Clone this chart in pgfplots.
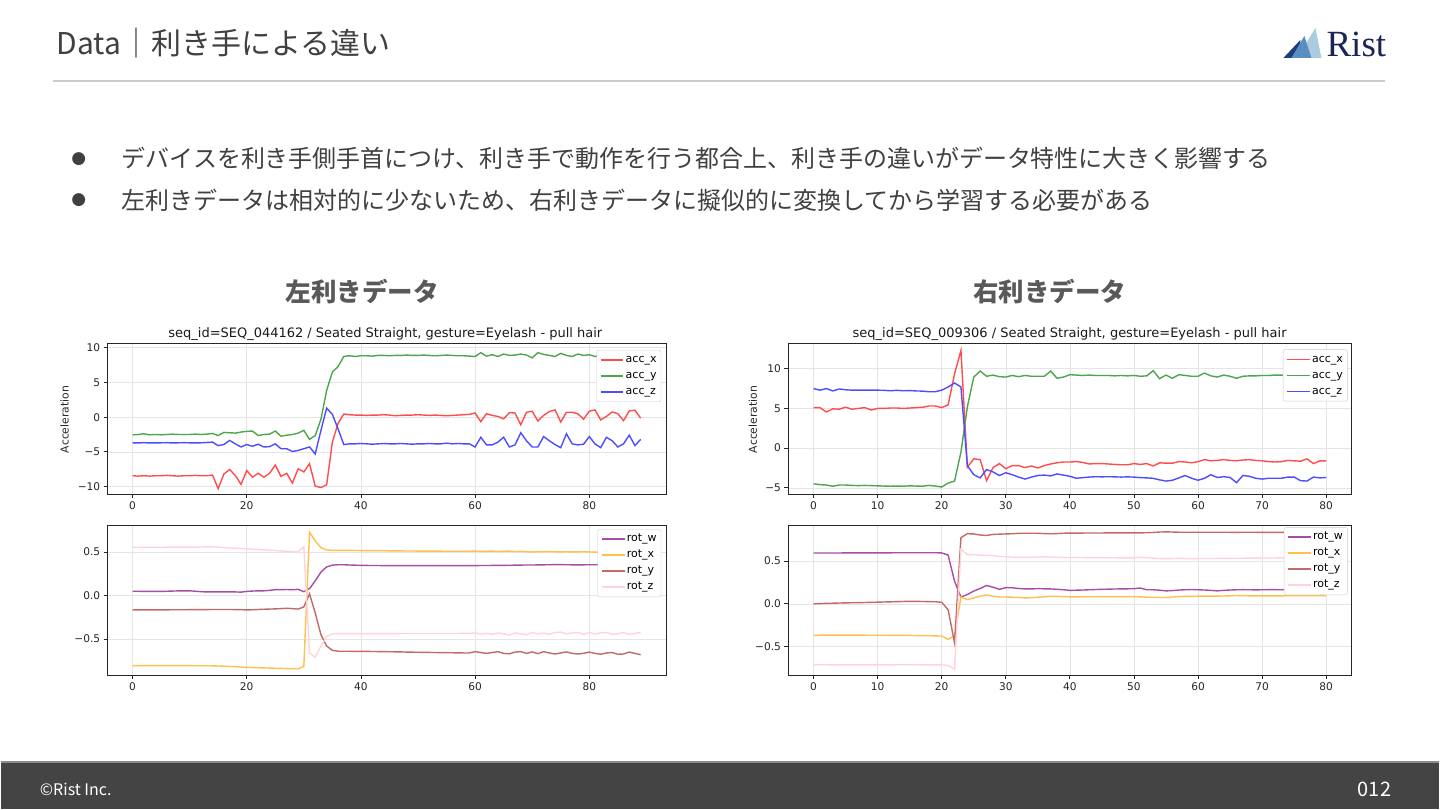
\documentclass[border=0pt]{standalone}
\usepackage{fontspec}
\usepackage{pgfplots}
\usepackage{pgfplotstable}
\pgfplotsset{compat=1.18}
\setmainfont{Noto Sans CJK JP}
\newfontfamily\dv{DejaVu Sans}
\newfontfamily\rs{Liberation Serif}

\definecolor{txt}{HTML}{404040}
\definecolor{foot}{HTML}{444444}
\definecolor{navy}{HTML}{1B2457}
\definecolor{logoA}{HTML}{1F3C7E}
\definecolor{logoB}{HTML}{A9CCE0}
\definecolor{logoC}{HTML}{5A8DC0}
% matplotlib colours at alpha 0.7 on white
\definecolor{accX}{RGB}{255,77,77}
\definecolor{accY}{RGB}{77,166,77}
\definecolor{accZ}{RGB}{77,77,255}
\definecolor{rotW}{RGB}{166,77,166}
\definecolor{rotX}{RGB}{255,192,77}
\definecolor{rotY}{RGB}{192,106,106}
\definecolor{rotZ}{RGB}{255,211,218}

% left hand: acc
\pgfplotstableread{
t ax ay az
0 -8.45 -2.55 -3.70
1 -8.50 -2.50 -3.72
2 -8.45 -2.40 -3.68
3 -8.50 -2.55 -3.72
4 -8.45 -2.50 -3.70
5 -8.45 -2.55 -3.70
6 -8.40 -2.50 -3.68
7 -8.45 -2.45 -3.72
8 -8.50 -2.50 -3.70
9 -8.45 -2.50 -3.68
10 -8.45 -2.50 -3.70
11 -8.40 -2.45 -3.72
12 -8.45 -2.50 -3.70
13 -8.45 -2.45 -3.65
14 -8.35 -2.35 -3.60
15 -10.30 -2.65 -4.10
16 -8.20 -2.20 -3.95
17 -7.55 -2.25 -3.35
18 -8.40 -2.30 -3.85
19 -9.70 -2.15 -4.30
20 -7.70 -2.05 -3.95
21 -8.65 -2.00 -4.20
22 -8.10 -2.65 -3.90
23 -8.65 -2.50 -4.30
24 -8.10 -2.45 -4.25
25 -6.90 -2.00 -3.85
26 -8.55 -2.75 -4.55
27 -8.10 -2.60 -4.55
28 -9.50 -2.50 -4.95
29 -7.45 -2.30 -4.80
30 -7.90 -1.90 -4.55
31 -6.70 -3.20 -4.30
32 -9.95 -2.65 -5.30
33 -10.15 -0.30 -1.90
34 -9.75 3.85 1.30
35 -3.60 6.50 0.40
36 -0.90 7.30 -1.70
37 0.45 8.75 -3.95
38 0.35 8.85 -3.85
39 0.30 8.75 -3.85
40 0.30 8.85 -3.80
41 0.25 8.85 -3.85
42 0.30 8.80 -3.90
43 0.30 8.90 -3.85
44 0.35 8.90 -3.80
45 0.30 8.85 -3.85
46 0.20 8.90 -3.85
47 0.25 8.90 -3.80
48 0.30 8.95 -3.85
49 0.30 8.90 -3.90
50 0.35 8.90 -3.85
51 0.30 8.95 -3.85
52 0.25 8.90 -3.80
53 0.30 8.85 -3.85
54 0.25 8.90 -3.85
55 0.20 8.95 -3.75
56 0.25 8.90 -3.85
57 0.30 8.85 -3.80
58 0.35 8.85 -3.85
59 0.40 8.80 -3.85
60 0.60 8.75 -4.30
61 -0.65 9.30 -2.90
62 0.50 8.80 -4.00
63 0.25 9.00 -4.00
64 0.10 8.75 -3.60
65 -0.25 9.10 -2.90
66 0.65 8.90 -4.30
67 0.60 8.95 -4.00
68 -1.10 9.10 -2.25
69 0.70 8.95 -3.40
70 0.85 8.55 -4.30
71 -0.55 9.30 -4.30
72 0.25 9.05 -2.80
73 0.80 8.90 -3.40
74 1.05 8.75 -3.95
75 -0.70 9.20 -4.40
76 0.70 8.90 -2.40
77 0.70 8.75 -3.85
78 0.50 9.10 -4.00
79 -0.30 8.90 -3.90
80 0.85 9.00 -2.80
81 1.05 8.75 -3.85
82 -0.40 8.90 -4.40
83 0.10 8.80 -2.90
84 0.75 9.00 -3.40
85 0.50 9.10 -4.30
86 -0.50 8.60 -3.85
87 0.90 9.00 -2.60
88 1.00 8.90 -4.10
89 -0.15 9.55 -3.20
}\LA

% left hand: rot
\pgfplotstableread{
t w x y z
0 0.050 -0.805 -0.165 0.555
1 0.050 -0.805 -0.165 0.555
2 0.048 -0.805 -0.165 0.555
3 0.048 -0.805 -0.165 0.556
4 0.048 -0.805 -0.164 0.556
5 0.048 -0.805 -0.164 0.556
6 0.050 -0.805 -0.164 0.557
7 0.052 -0.806 -0.163 0.557
8 0.054 -0.806 -0.163 0.557
9 0.055 -0.806 -0.163 0.558
10 0.055 -0.806 -0.162 0.558
11 0.050 -0.807 -0.162 0.558
12 0.045 -0.807 -0.161 0.559
13 0.042 -0.807 -0.161 0.560
14 0.042 -0.808 -0.160 0.560
15 0.042 -0.810 -0.160 0.558
16 0.042 -0.812 -0.160 0.552
17 0.042 -0.815 -0.160 0.548
18 0.042 -0.818 -0.161 0.545
19 0.040 -0.822 -0.162 0.542
20 0.048 -0.826 -0.165 0.538
21 0.052 -0.828 -0.163 0.533
22 0.055 -0.830 -0.160 0.530
23 0.055 -0.832 -0.157 0.526
24 0.060 -0.834 -0.155 0.522
25 0.068 -0.836 -0.153 0.518
26 0.068 -0.838 -0.150 0.514
27 0.070 -0.840 -0.146 0.510
28 0.068 -0.842 -0.150 0.505
29 0.072 -0.842 -0.155 0.502
30 0.045 -0.815 -0.130 0.560
31 0.080 0.730 0.020 -0.660
32 0.170 0.630 -0.200 -0.710
33 0.270 0.550 -0.450 -0.580
34 0.330 0.525 -0.580 -0.470
35 0.350 0.520 -0.630 -0.440
36 0.355 0.520 -0.640 -0.437
37 0.355 0.520 -0.640 -0.437
38 0.352 0.520 -0.641 -0.438
39 0.350 0.519 -0.641 -0.438
40 0.348 0.518 -0.642 -0.437
41 0.347 0.518 -0.642 -0.437
42 0.346 0.517 -0.643 -0.437
43 0.346 0.516 -0.644 -0.437
44 0.345 0.516 -0.645 -0.437
45 0.345 0.515 -0.646 -0.437
46 0.344 0.514 -0.647 -0.437
47 0.344 0.514 -0.648 -0.437
48 0.344 0.513 -0.650 -0.436
49 0.344 0.513 -0.651 -0.436
50 0.344 0.512 -0.652 -0.436
51 0.344 0.512 -0.653 -0.436
52 0.344 0.511 -0.654 -0.436
53 0.345 0.511 -0.655 -0.436
54 0.345 0.511 -0.656 -0.436
55 0.345 0.510 -0.657 -0.436
56 0.345 0.510 -0.658 -0.436
57 0.345 0.510 -0.659 -0.436
58 0.345 0.510 -0.660 -0.435
59 0.345 0.510 -0.660 -0.435
60 0.345 0.512 -0.645 -0.430
61 0.346 0.508 -0.655 -0.440
62 0.346 0.510 -0.665 -0.435
63 0.347 0.512 -0.655 -0.445
64 0.347 0.507 -0.645 -0.430
65 0.348 0.510 -0.665 -0.440
66 0.349 0.512 -0.670 -0.455
67 0.350 0.506 -0.650 -0.430
68 0.351 0.509 -0.645 -0.440
69 0.352 0.505 -0.665 -0.450
70 0.352 0.502 -0.648 -0.425
71 0.353 0.506 -0.668 -0.440
72 0.354 0.504 -0.645 -0.430
73 0.355 0.508 -0.660 -0.445
74 0.356 0.504 -0.672 -0.425
75 0.356 0.502 -0.660 -0.420
76 0.355 0.505 -0.648 -0.440
77 0.354 0.502 -0.665 -0.430
78 0.354 0.503 -0.672 -0.425
79 0.354 0.505 -0.665 -0.445
80 0.355 0.502 -0.650 -0.425
81 0.355 0.500 -0.665 -0.440
82 0.354 0.503 -0.675 -0.430
83 0.353 0.500 -0.660 -0.425
84 0.353 0.502 -0.655 -0.445
85 0.353 0.500 -0.675 -0.440
86 0.352 0.498 -0.672 -0.425
87 0.352 0.500 -0.650 -0.445
88 0.352 0.500 -0.665 -0.435
89 0.352 0.498 -0.680 -0.425
}\LR

% right hand: acc
\pgfplotstableread{
t ax ay az
0 5.10 -4.50 7.50
1 5.10 -4.60 7.30
2 4.55 -4.65 7.50
3 4.95 -4.80 7.20
4 4.90 -4.65 7.45
5 5.15 -4.65 7.35
6 4.90 -4.70 7.30
7 5.00 -4.72 7.30
8 5.10 -4.70 7.30
9 4.80 -4.72 7.30
10 5.00 -4.75 7.30
11 5.00 -4.78 7.28
12 5.05 -4.80 7.22
13 5.05 -4.78 7.28
14 5.00 -4.80 7.22
15 5.05 -4.75 7.25
16 5.10 -4.78 7.20
17 5.15 -4.80 7.18
18 5.30 -4.70 7.10
19 5.30 -4.78 7.10
20 5.10 -4.90 7.30
21 5.45 -4.40 7.70
22 9.35 -4.15 8.20
23 12.30 -0.50 7.70
24 -2.40 5.20 -2.20
25 -1.35 8.95 -3.35
26 -1.45 9.70 -3.75
27 -4.10 9.05 -2.70
28 -2.45 9.20 -3.00
29 -1.95 9.00 -3.45
30 -2.60 8.95 -3.10
31 -2.20 9.15 -3.35
32 -2.20 9.00 -3.65
33 -2.45 9.15 -3.90
34 -2.25 9.05 -3.65
35 -2.50 9.05 -3.45
36 -2.20 9.05 -3.40
37 -2.00 9.70 -3.50
38 -1.85 8.80 -3.25
39 -1.75 8.95 -3.40
40 -1.75 9.25 -3.55
41 -1.70 9.20 -3.80
42 -1.80 9.15 -3.72
43 -2.00 9.20 -3.65
44 -1.95 9.15 -3.60
45 -1.95 9.15 -3.62
46 -2.00 9.15 -3.60
47 -2.05 9.10 -3.62
48 -2.10 9.15 -3.65
49 -2.10 9.10 -3.62
50 -1.95 9.15 -3.65
51 -2.05 9.05 -3.72
52 -1.95 9.10 -3.75
53 -2.25 9.75 -3.80
54 -1.85 8.75 -4.00
55 -1.90 9.20 -4.15
56 -1.90 8.80 -4.05
57 -1.70 9.25 -3.75
58 -1.75 9.15 -3.45
59 -1.85 9.05 -3.80
60 -1.70 9.05 -4.05
61 -1.45 9.45 -3.80
62 -1.60 9.10 -3.35
63 -1.55 8.95 -3.70
64 -1.45 9.20 -3.60
65 -1.55 9.05 -3.70
66 -1.60 8.80 -4.35
67 -1.50 9.05 -3.45
68 -1.45 9.10 -3.55
69 -1.55 9.10 -3.80
70 -1.60 9.15 -3.90
71 -1.70 9.15 -3.80
72 -1.75 9.20 -3.80
73 -1.70 9.20 -3.80
74 -1.55 9.15 -3.65
75 -1.60 9.20 -3.65
76 -1.65 9.20 -4.10
77 -1.35 9.15 -4.15
78 -1.95 9.15 -3.65
79 -1.60 9.10 -3.75
80 -1.60 9.10 -3.70
}\RA

% right hand: rot
\pgfplotstableread{
t w x y z
0 0.595 -0.370 0.000 -0.710
1 0.595 -0.365 0.003 -0.712
2 0.595 -0.365 0.006 -0.712
3 0.595 -0.365 0.008 -0.713
4 0.595 -0.365 0.010 -0.713
5 0.596 -0.365 0.012 -0.714
6 0.596 -0.366 0.013 -0.714
7 0.596 -0.366 0.014 -0.714
8 0.596 -0.366 0.016 -0.714
9 0.597 -0.367 0.018 -0.714
10 0.597 -0.367 0.020 -0.713
11 0.597 -0.367 0.022 -0.713
12 0.597 -0.368 0.024 -0.713
13 0.598 -0.368 0.026 -0.712
14 0.598 -0.369 0.028 -0.712
15 0.598 -0.369 0.030 -0.712
16 0.598 -0.370 0.029 -0.712
17 0.598 -0.371 0.028 -0.713
18 0.598 -0.372 0.026 -0.713
19 0.598 -0.374 0.025 -0.713
20 0.596 -0.376 0.018 -0.714
21 0.570 -0.415 -0.070 -0.720
22 0.265 -0.375 -0.455 -0.765
23 0.080 0.080 0.775 0.640
24 0.110 0.050 0.820 0.575
25 0.150 0.070 0.818 0.575
26 0.180 0.090 0.805 0.570
27 0.215 0.105 0.800 0.568
28 0.195 0.090 0.812 0.565
29 0.170 0.080 0.815 0.555
30 0.190 0.080 0.818 0.550
31 0.188 0.078 0.820 0.548
32 0.180 0.075 0.825 0.545
33 0.175 0.070 0.826 0.545
34 0.175 0.072 0.826 0.545
35 0.178 0.078 0.825 0.548
36 0.176 0.082 0.822 0.550
37 0.175 0.090 0.820 0.548
38 0.170 0.088 0.822 0.545
39 0.165 0.085 0.826 0.543
40 0.158 0.082 0.828 0.542
41 0.160 0.082 0.828 0.543
42 0.162 0.083 0.828 0.542
43 0.165 0.083 0.829 0.541
44 0.168 0.084 0.829 0.540
45 0.170 0.084 0.829 0.540
46 0.172 0.085 0.830 0.539
47 0.174 0.085 0.830 0.539
48 0.175 0.085 0.830 0.538
49 0.176 0.085 0.830 0.538
50 0.178 0.085 0.830 0.538
51 0.185 0.082 0.830 0.545
52 0.165 0.078 0.832 0.540
53 0.165 0.078 0.835 0.535
54 0.160 0.075 0.840 0.530
55 0.152 0.075 0.842 0.528
56 0.155 0.080 0.840 0.530
57 0.162 0.085 0.838 0.532
58 0.165 0.088 0.838 0.530
59 0.168 0.088 0.838 0.528
60 0.165 0.090 0.838 0.530
61 0.162 0.090 0.838 0.530
62 0.158 0.091 0.838 0.531
63 0.152 0.091 0.838 0.531
64 0.158 0.092 0.837 0.532
65 0.162 0.094 0.837 0.533
66 0.165 0.098 0.835 0.533
67 0.166 0.096 0.838 0.534
68 0.165 0.094 0.837 0.535
69 0.164 0.093 0.837 0.535
70 0.165 0.093 0.836 0.536
71 0.166 0.094 0.836 0.536
72 0.166 0.094 0.836 0.537
73 0.165 0.094 0.836 0.537
74 0.165 0.095 0.836 0.538
75 0.166 0.095 0.835 0.538
76 0.167 0.095 0.835 0.539
77 0.167 0.095 0.835 0.539
78 0.166 0.095 0.835 0.540
79 0.165 0.095 0.835 0.540
80 0.165 0.095 0.835 0.540
}\RR

\pgfplotsset{
  legend image code/.code={\draw[line width=1.5pt,#1] (0pt,0pt) -- (23pt,0pt);},
  panel/.style={
    scale only axis, anchor=south west,
    axis line style={black!85, line width=0.8pt},
    tick pos=left, tick align=outside, major tick length=3.5pt,
    tick style={black!85, line width=0.8pt},
    grid=major, grid style={black!10, line width=0.6pt},
    ticklabel style={font=\dv\fontsize{10.6}{12}\selectfont, text=black!85},
    legend cell align=left,
    legend style={anchor=north east, fill=white,
      draw=black!20, rounded corners=2pt, font=\dv\fontsize{11}{12}\selectfont,
      row sep=2.5pt, inner xsep=3pt, inner ysep=3pt, outer sep=0pt,
      nodes={inner sep=1.5pt, text height=8pt, text depth=2.5pt}},
    every axis plot/.append style={line width=1.4pt},
  },
}

\begin{document}
\begin{tikzpicture}[x=1pt, y=1pt]
\fill[white] (0,0) rectangle (1440,810);

% header
\node[anchor=base west, inner sep=0, text=txt, font=\fontsize{30}{34}\selectfont] at (56,755) {Data｜利き手による違い};
\draw[black!20, line width=1.5pt] (52,729) -- (1386,729);
\fill[logoA] (1284,752) -- (1301,752) -- (1301,770) -- cycle;
\fill[logoB] (1298,752) -- (1322,752) -- (1316,782) -- cycle;
\fill[logoC] (1292,752) -- (1312,752) -- (1305,774) -- cycle;
\node[anchor=base west, inner sep=0, text=navy, font=\rs\fontsize{37}{40}\selectfont] at (1327,753) {Rist};

% bullets
\node[text=txt, font=\dv\fontsize{17}{18}\selectfont, inner sep=0] at (78,651) {●};
\node[anchor=base west, inner sep=0, text=txt, font=\fontsize{24}{28}\selectfont] at (121,642) {デバイスを利き手側手首につけ、利き手で動作を行う都合上、利き手の違いがデータ特性に大きく影響する};
\node[text=txt, font=\dv\fontsize{17}{18}\selectfont, inner sep=0] at (78,610) {●};
\node[anchor=base west, inner sep=0, text=txt, font=\fontsize{24}{28}\selectfont] at (121,600) {左利きデータは相対的に少ないため、右利きデータに擬似的に変換してから学習する必要がある};

% panel headings
\node[text=black!65, font=\bfseries\fontsize{25.5}{28}\selectfont] at (362,518) {左利きデータ};
\node[text=black!65, font=\bfseries\fontsize{25.5}{28}\selectfont] at (1050,518) {右利きデータ};

% chart titles and labels
\node[anchor=base, inner sep=0, text=black!90, font=\dv\fontsize{13}{14}\selectfont] at (385,472) {seq\_id=SEQ\_044162 / Seated Straight, gesture=Eyelash - pull hair};
\node[anchor=base, inner sep=0, text=black!90, font=\dv\fontsize{13}{14}\selectfont] at (1070,472) {seq\_id=SEQ\_009306 / Seated Straight, gesture=Eyelash - pull hair};
\node[rotate=90, text=black!85, font=\dv\fontsize{10.8}{12}\selectfont] at (64,390) {Acceleration};
\node[rotate=90, text=black!85, font=\dv\fontsize{10.8}{12}\selectfont] at (753,390) {Acceleration};

% left acc
\begin{axis}[panel, at={(106.5pt,315pt)}, width=559.5pt, height=151pt,
  xmin=-4.45, xmax=93.45, ymin=-11.15, ymax=10.6,
  xtick={0,20,40,60,80}, xticklabels={0,20,40,60,80},
  ytick={-10,-5,0,5,10}, yticklabels={−10,−5,0,5,10},
  legend style={at={(0.991,0.956)}}]
\addplot[color=accX] table[x=t, y=ax] {\LA};
\addlegendentry{acc\_x}
\addplot[color=accY] table[x=t, y=ay] {\LA};
\addlegendentry{acc\_y}
\addplot[color=accZ] table[x=t, y=az] {\LA};
\addlegendentry{acc\_z}
\end{axis}

% left rot
\begin{axis}[panel, at={(106.5pt,134pt)}, width=559.5pt, height=150pt,
  xmin=-4.45, xmax=93.45, ymin=-0.917, ymax=0.807,
  xtick={0,20,40,60,80}, xticklabels={0,20,40,60,80},
  ytick={-0.5,0,0.5}, yticklabels={−0.5,0.0,0.5},
  legend style={at={(0.991,0.973)}}]
\addplot[color=rotW] table[x=t, y=w] {\LR};
\addlegendentry{rot\_w}
\addplot[color=rotX] table[x=t, y=x] {\LR};
\addlegendentry{rot\_x}
\addplot[color=rotY] table[x=t, y=y] {\LR};
\addlegendentry{rot\_y}
\addplot[color=rotZ] table[x=t, y=z] {\LR};
\addlegendentry{rot\_z}
\end{axis}

% right acc
\begin{axis}[panel, at={(788pt,315pt)}, width=564.5pt, height=151pt,
  xmin=-4, xmax=84, ymin=-5.84, ymax=13.16,
  xtick={0,10,...,80}, xticklabels={0,10,20,30,40,50,60,70,80},
  ytick={-5,0,5,10}, yticklabels={−5,0,5,10},
  legend style={at={(0.992,0.96)}}]
\addplot[color=accX] table[x=t, y=ax] {\RA};
\addlegendentry{acc\_x}
\addplot[color=accY] table[x=t, y=ay] {\RA};
\addlegendentry{acc\_y}
\addplot[color=accZ] table[x=t, y=az] {\RA};
\addlegendentry{acc\_z}
\end{axis}

% right rot
\begin{axis}[panel, at={(788pt,134pt)}, width=564.5pt, height=150pt,
  xmin=-4, xmax=84, ymin=-0.835, ymax=0.917,
  xtick={0,10,...,80}, xticklabels={0,10,20,30,40,50,60,70,80},
  ytick={-0.5,0,0.5}, yticklabels={−0.5,0.0,0.5},
  legend style={at={(0.992,0.987)}}]
\addplot[color=rotW] table[x=t, y=w] {\RR};
\addlegendentry{rot\_w}
\addplot[color=rotX] table[x=t, y=x] {\RR};
\addlegendentry{rot\_x}
\addplot[color=rotY] table[x=t, y=y] {\RR};
\addlegendentry{rot\_y}
\addplot[color=rotZ] table[x=t, y=z] {\RR};
\addlegendentry{rot\_z}
\end{axis}

% footer
\fill[foot] (0,0) rectangle (1440,47);
\draw[black!45, line width=1.5pt] (0,47) -- (1440,47);
\node[anchor=base west, inner sep=0, text=white, font=\fontsize{16}{18}\selectfont] at (39,14) {©Rist Inc.};
\node[anchor=base east, inner sep=0, text=white, font=\fontsize{20}{22}\selectfont] at (1392,13) {012};
\end{tikzpicture}
\end{document}
